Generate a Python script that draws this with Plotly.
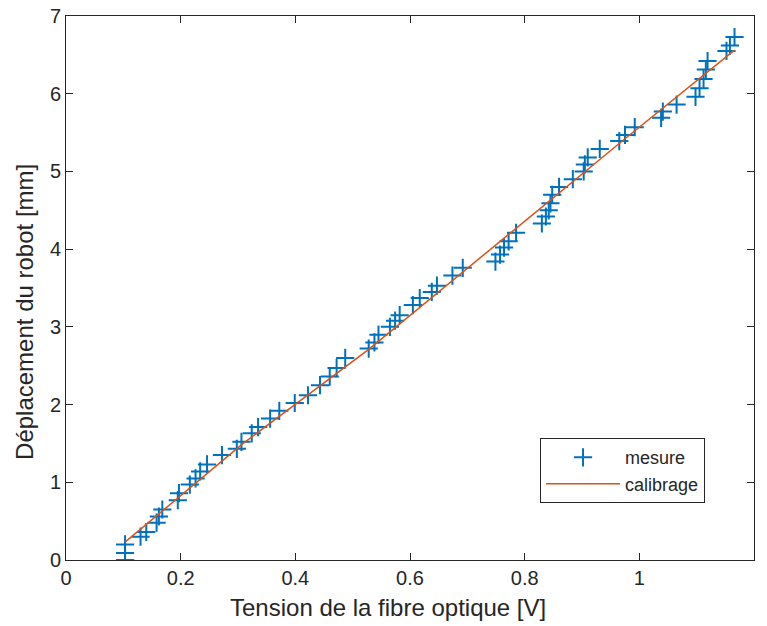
import plotly.graph_objects as go

# measured points (tension [V], displacement [mm])
mesure_x = [0.103, 0.103, 0.103, 0.130, 0.140, 0.158, 0.162, 0.168, 0.195, 0.197,
            0.216, 0.226, 0.234, 0.246, 0.272, 0.298, 0.306, 0.324, 0.335, 0.356,
            0.372, 0.399, 0.422, 0.443, 0.460, 0.472, 0.487, 0.528, 0.538, 0.545,
            0.565, 0.574, 0.582, 0.605, 0.617, 0.638, 0.647, 0.674, 0.692, 0.749,
            0.757, 0.764, 0.772, 0.785, 0.830, 0.837, 0.842, 0.845, 0.848, 0.860,
            0.884, 0.903, 0.905, 0.910, 0.931, 0.965, 0.975, 0.992, 1.038, 1.041,
            1.065, 1.098, 1.105, 1.112, 1.116, 1.119, 1.152, 1.158, 1.166]
mesure_y = [0.00, 0.09, 0.20, 0.30, 0.36, 0.48, 0.56, 0.65, 0.77, 0.86,
            0.97, 1.05, 1.14, 1.23, 1.35, 1.43, 1.52, 1.63, 1.71, 1.82,
            1.92, 2.02, 2.12, 2.25, 2.36, 2.47, 2.60, 2.72, 2.80, 2.90,
            3.00, 3.08, 3.15, 3.28, 3.37, 3.45, 3.53, 3.66, 3.76, 3.84,
            3.93, 4.02, 4.10, 4.21, 4.33, 4.42, 4.50, 4.59, 4.70, 4.80,
            4.90, 5.00, 5.09, 5.18, 5.29, 5.39, 5.47, 5.57, 5.69, 5.77,
            5.86, 5.96, 6.07, 6.19, 6.31, 6.42, 6.55, 6.62, 6.73]

# calibration curve
calib_x = [0.103, 0.309, 0.528, 0.762, 0.975, 1.166]
calib_y = [0.23, 1.50, 2.71, 4.13, 5.42, 6.56]

x_ticks = [0, 0.2, 0.4, 0.6, 0.8, 1.0, 1.2]
x_tick_labels = ["0", "0.2", "0.4", "0.6", "0.8", "1", "1.2"]
y_ticks = [0, 1, 2, 3, 4, 5, 6, 7]

x_title = "Tension de la fibre optique [V]"
y_title = "Déplacement du robot [mm]"

fig = go.Figure()
fig.add_trace(go.Scatter(
    x=mesure_x, y=mesure_y, mode="markers", name="mesure",
    marker=dict(symbol="cross-thin", size=13, color="#0072BD",
                line=dict(width=2, color="#0072BD")),
))
fig.add_trace(go.Scatter(
    x=calib_x, y=calib_y, mode="lines", name="calibrage",
    line=dict(color="#D95319", width=1.5),
))

FONT = "Liberation Sans, Arial, Helvetica, sans-serif"
axis_common = dict(
    showgrid=False, zeroline=False, showline=True, linecolor="#262626",
    linewidth=1, mirror="ticks", ticks="inside", ticklen=7, tickcolor="#262626",
    automargin=False,
    tickfont=dict(family=FONT, size=20, color="#262626"),
)

fig.update_layout(
    width=767, height=626,
    margin=dict(l=66, r=13, t=16, b=66, autoexpand=False),
    paper_bgcolor="white", plot_bgcolor="white",
    font=dict(family=FONT, color="#262626"),
    xaxis=dict(range=[0, 1.2], tickvals=x_ticks, ticktext=x_tick_labels, **axis_common),
    yaxis=dict(range=[0, 7], tickvals=y_ticks, **axis_common),
    legend=dict(x=0.689, y=0.224, xanchor="left", yanchor="top",
                bgcolor="white", bordercolor="#262626", borderwidth=1,
                font=dict(size=18, color="#262626"), itemwidth=74,
                tracegroupgap=0),
    showlegend=True,
    annotations=[
        dict(text=x_title, xref="paper", yref="paper", x=0.468, y=-0.088,
             xanchor="center", yanchor="middle", showarrow=False,
             font=dict(size=24, family=FONT, color="#262626")),
        dict(text=y_title, xref="paper", yref="paper", x=-0.0596, y=0.456,
             xanchor="center", yanchor="middle", showarrow=False, textangle=-90,
             font=dict(size=24, family=FONT, color="#262626")),
    ],
)

fig.write_html("out.html", post_script="document.body.style.margin='0';",
               config={"displayModeBar": False})
